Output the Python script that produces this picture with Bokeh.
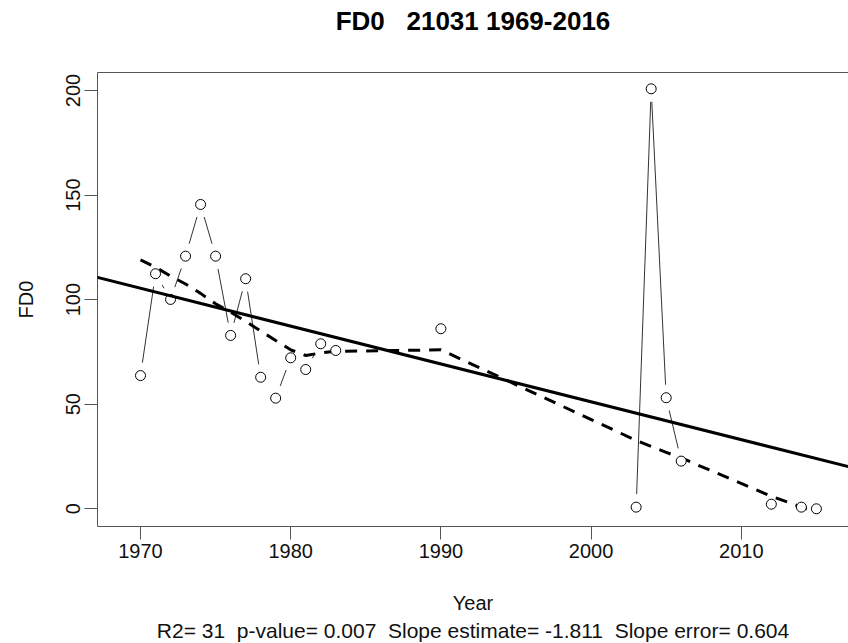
import math
import numpy as np
from bokeh.plotting import figure
from bokeh.models import Slope, LinearAxis, FixedTicker, Title
from bokeh.embed import file_html
from bokeh.resources import INLINE

# ---- data (missing years are simply absent) ----
years = [1970, 1971, 1972, 1973, 1974, 1975, 1976, 1977, 1978, 1979, 1980,
         1981, 1982, 1983, 1990, 2003, 2004, 2005, 2006, 2012, 2014, 2015]
fd0 = [63.7, 112.4, 100.1, 120.8, 145.5, 120.8, 82.9, 110.0, 62.9, 52.9, 72.2,
       66.6, 78.9, 75.7, 86.1, 0.8, 200.8, 53.1, 22.8, 2.2, 0.8, 0.0]
smooth = [119.0, 115.5, 111.3, 107.5, 103.0, 98.0, 94.0, 89.6, 85.0, 80.5, 76.0,
          73.3, 74.5, 75.3, 76.0, 32.7, 29.8, 27.0, 24.3, 6.0, 0.8, -1.8]
x_ticks = [1970, 1980, 1990, 2000, 2010]
y_ticks = [0, 50, 100, 150, 200]
NB = "\u00a0"
title_text = "FD0" + NB + NB + " 21031 1969-2016"
x_label = "Year"
y_label = "FD0"
stats_text = ("R2= 31" + NB + " p-value= 0.007" + NB + " Slope estimate= -1.811"
              + NB + " Slope error= 0.604")

# ---- layout ----
W, H = 848, 643
ML, MR, MT, MB = 97, 0, 72, 117
X0, X1 = 1967.137, 2017.137
Y0, Y1 = -8.46, 208.6
FONT = "Liberation Sans"
AX_COL = "#555555"
TXT_COL = "#111111"

p = figure(width=W, height=H, x_range=(X0, X1), y_range=(Y0, Y1),
           output_backend="svg", toolbar_location=None,
           min_border_left=ML, min_border_right=MR,
           min_border_top=MT, min_border_bottom=MB)
p.outline_line_color = None
p.grid.visible = False
p.background_fill_color = "white"
p.border_fill_color = "white"

# trailing empty line lifts the title towards the top of the page
p.title.text = title_text + "\n"
p.title.align = "center"
p.title.vertical_align = "top"
p.title.text_font = FONT
p.title.text_font_size = "26px"
p.title.text_font_style = "bold"
p.title.text_color = "black"
p.title.standoff = 10

for ax in (p.xaxis[0], p.yaxis[0]):
    ax.axis_line_color = AX_COL
    ax.axis_line_width = 1
    ax.major_tick_line_color = AX_COL
    ax.major_tick_out = 13
    ax.major_tick_in = 0
    ax.minor_tick_line_color = None
    ax.major_label_text_font = FONT
    ax.major_label_text_font_size = "20px"
    ax.major_label_text_color = TXT_COL
    ax.axis_label_text_font = FONT
    ax.axis_label_text_font_size = "20px"
    ax.axis_label_text_font_style = "normal"
    ax.axis_label_text_color = TXT_COL

p.xaxis.ticker = FixedTicker(ticks=x_ticks)
p.yaxis.ticker = FixedTicker(ticks=y_ticks)
p.xaxis.major_label_standoff = 4
p.yaxis.major_label_standoff = 4
p.yaxis.major_label_orientation = "vertical"
p.yaxis.axis_label = y_label
p.yaxis.axis_label_standoff = 27
p.xaxis.axis_label = x_label
p.xaxis.axis_label_standoff = 31

top = LinearAxis(ticker=FixedTicker(ticks=[]), axis_line_color=AX_COL,
                 major_tick_line_color=None, minor_tick_line_color=None,
                 major_tick_out=0, major_label_standoff=0,
                 major_label_text_font_size="0px")
p.add_layout(top, "above")

p.add_layout(Title(text=stats_text, align="center", text_font=FONT,
                   text_font_size="21px", text_font_style="normal",
                   text_color=TXT_COL, standoff=0), "below")

# scales (px per data unit)
sx = (W - ML - MR) / (X1 - X0)
sy = (H - MT - MB) / (Y1 - Y0)

# type="b" connecting lines: only consecutive years, with gaps around points
GAP = 13
x0s, y0s, x1s, y1s = [], [], [], []
for i in range(len(years) - 1):
    if years[i + 1] - years[i] != 1:
        continue
    ddx, ddy = years[i + 1] - years[i], fd0[i + 1] - fd0[i]
    L = math.hypot(ddx * sx, ddy * sy)
    if L <= 2 * GAP:
        continue
    f = GAP / L
    x0s.append(years[i] + ddx * f)
    y0s.append(fd0[i] + ddy * f)
    x1s.append(years[i + 1] - ddx * f)
    y1s.append(fd0[i + 1] - ddy * f)
p.segment(x0s, y0s, x1s, y1s, line_color="#333333", line_width=1)

# regression line
b, a = np.polyfit(years, fd0, 1)
p.add_layout(Slope(gradient=float(b), y_intercept=float(a),
                   line_color="black", line_width=3))

# smoother
p.line(years, smooth, line_color="black", line_width=3, line_dash="12 9")

# points
p.scatter(years, fd0, marker="circle", size=10, fill_color="white",
          line_color="black", line_width=1)

open("out.html", "w").write(file_html(p, INLINE))
